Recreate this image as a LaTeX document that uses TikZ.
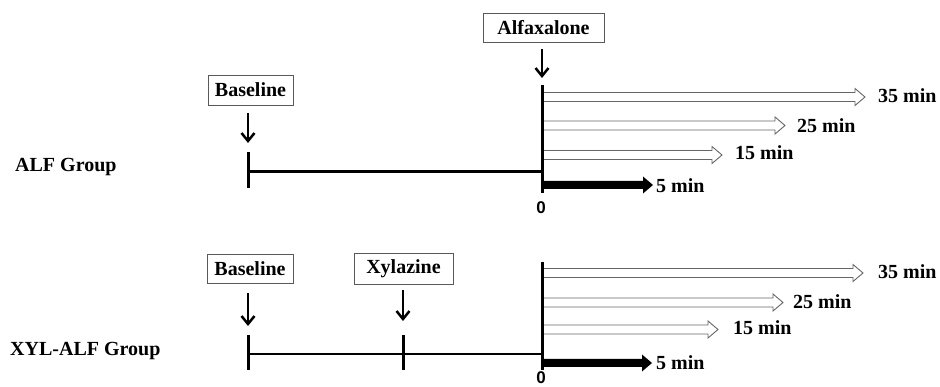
\documentclass[tikz,border=0pt]{standalone}
\usepackage{fontspec}
\setmainfont{Liberation Serif}
\newfontfamily\zerofont{Liberation Sans}
\usetikzlibrary{arrows.meta,calc}
\tikzset{
  lbl/.style={font=\fontsize{20}{24}\selectfont\bfseries, inner sep=0pt},
  evbox/.style={draw=black!65, line width=0.8pt, font=\fontsize{20}{24}\selectfont\bfseries, inner sep=0pt, minimum height=29pt},
  downarr/.style={line width=2.5pt, -{Straight Barb[length=8pt,width=13pt]}},
  tickmark/.style={line width=3pt},
  tline/.style={line width=2.2pt},
  axisline/.style={line width=3pt},
  hollow/.style={draw=black!60, line width=0.9pt, fill=white, line join=miter},
  solidarr/.style={fill=black, draw=none},
  zerolbl/.style={font=\fontsize{17}{20}\selectfont\zerofont\bfseries, inner sep=0pt},
}
\newcommand\hollowarr[2]{%
  \draw[hollow] ($(#1)+(0,-4.5)$) -- ($(#2)+(-10,-4.5)$) -- ($(#2)+(-10,-8.5)$) -- (#2)
    -- ($(#2)+(-10,8.5)$) -- ($(#2)+(-10,4.5)$) -- ($(#1)+(0,4.5)$);}
\newcommand\solidarr[2]{%
  \fill[solidarr] ($(#1)+(0,-4)$) -- ($(#2)+(-10,-4)$) -- ($(#2)+(-10,-8.5)$) -- (#2)
    -- ($(#2)+(-10,8.5)$) -- ($(#2)+(-10,4)$) -- ($(#1)+(0,4)$) -- cycle;}
\begin{document}
\begin{tikzpicture}[x=1pt,y=-1pt]
\useasboundingbox (0,0) rectangle (940,387);
% ---------------- ALF group ----------------
\node[lbl, anchor=west] (alfgrp) at (15,167) {ALF Group};
\node[evbox, minimum width=121pt] (alfa) at (543.5,27.5) {Alfaxalone};
\node[evbox, minimum width=85pt, minimum height=30pt] (base1) at (250.5,90) {Baseline};
\coordinate (b1a) at (248,113); \coordinate (b1b) at (248,143);
\coordinate (a1a) at (542,49);  \coordinate (a1b) at (542,78);
\draw[downarr] (b1a) -- (b1b);
\draw[downarr] (a1a) -- (a1b);
\coordinate (t1top) at (248,152); \coordinate (t1bot) at (248,188);
\coordinate (tl1a) at (248,171.5); \coordinate (tl1b) at (542,171.5);
\draw[tline] (tl1a) -- (tl1b);
\draw[tickmark] (t1top) -- (t1bot);
% arrows
\coordinate (s35a) at (542,97);    \coordinate (e35a) at (865,97);
\coordinate (s25a) at (542,125.5); \coordinate (e25a) at (785,125.5);
\coordinate (s15a) at (542,155);   \coordinate (e15a) at (722,155);
\coordinate (s5a)  at (542,185);   \coordinate (e5a)  at (653,185);
\hollowarr{s35a}{e35a}
\hollowarr{s25a}{e25a}
\hollowarr{s15a}{e15a}
\solidarr{s5a}{e5a}
\coordinate (ax1top) at (542,85); \coordinate (ax1bot) at (542,193);
\draw[axisline] (ax1top) -- (ax1bot);
\node[zerolbl] (zero1) at (541,208) {0};
\node[lbl, anchor=west] (l35a) at (878,96) {35 min};
\node[lbl, anchor=west] (l25a) at (797,126) {25 min};
\node[lbl, anchor=west] (l15a) at (735,153) {15 min};
\node[lbl, anchor=west] (l5a)  at (656,186) {5 min};
% ---------------- XYL-ALF group ----------------
\node[lbl, anchor=west] (xylgrp) at (10,351) {XYL-ALF Group};
\node[evbox, minimum width=86pt] (base2) at (250,268.5) {Baseline};
\node[evbox, minimum width=99pt, minimum height=31pt] (xyl) at (403.5,268.5) {Xylazine};
\coordinate (b2a) at (248,293); \coordinate (b2b) at (248,326);
\coordinate (x2a) at (403,290); \coordinate (x2b) at (403,321);
\draw[downarr] (b2a) -- (b2b);
\draw[downarr] (x2a) -- (x2b);
\coordinate (tl2a) at (248,354); \coordinate (tl2b) at (542,354);
\draw[tline] (tl2a) -- (tl2b);
\coordinate (t2top) at (248,335); \coordinate (t2bot) at (248,370);
\coordinate (t3top) at (403,335); \coordinate (t3bot) at (403,370);
\draw[tickmark] (t2top) -- (t2bot);
\draw[tickmark] (t3top) -- (t3bot);
\coordinate (s35b) at (542,273);   \coordinate (e35b) at (863,273);
\coordinate (s25b) at (542,302.5); \coordinate (e25b) at (783,302.5);
\coordinate (s15b) at (542,329.5); \coordinate (e15b) at (718,329.5);
\coordinate (s5b)  at (542,363);   \coordinate (e5b)  at (652,363);
\hollowarr{s35b}{e35b}
\hollowarr{s25b}{e25b}
\hollowarr{s15b}{e15b}
\solidarr{s5b}{e5b}
\coordinate (ax2top) at (542,262); \coordinate (ax2bot) at (542,369.5);
\draw[axisline] (ax2top) -- (ax2bot);
\node[zerolbl] (zero2) at (541,378) {0};
\node[lbl, anchor=west] (l35b) at (878,272) {35 min};
\node[lbl, anchor=west] (l25b) at (793,302) {25 min};
\node[lbl, anchor=west] (l15b) at (733,328) {15 min};
\node[lbl, anchor=west] (l5b)  at (656,363) {5 min};
\end{tikzpicture}
\end{document}
